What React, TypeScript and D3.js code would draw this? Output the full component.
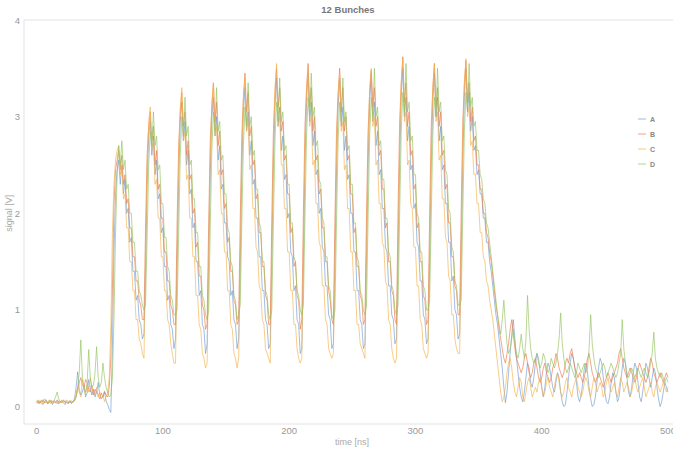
import React from 'react';
import * as d3 from 'd3';

const W = 673;
const H = 452;

const chartTitle = '12 Bunches';
const xLabel = 'time [ns]';
const yLabel = 'signal [V]';
const seriesNames = ['A', 'B', 'C', 'D'];
const seriesColors = ['#6f9bd1', '#ee7644', '#f4b24a', '#93c25c'];
const xTicks = [0, 100, 200, 300, 400, 500];
const yTicks = [0, 1, 2, 3, 4];
const timeStep = 1.25; // ns between samples, first sample at t = 0

const seriesA = [
  0.05, 0.03, 0.06, 0.04, 0.02, 0.05, 0.07, 0.03, 0.04, 0.06, 0.02, 0.05, 0.04, 0.07, 0.03, 0.05, 0.06, 0.04, 0.02, 0.05, 0.04, 0.06, 0.03, 0.05,
  0.08, 0.2, 0.36, 0.18, 0.12, 0.15, 0.22, 0.1, 0.14, 0.28, 0.2, 0.12, 0.18, 0.1, 0.15, 0.25, 0.12, 0.08, 0.1, 0.15, 0.06, 0.02, -0.03, -0.06,
  0.6, 1.6, 2.2, 2.45, 2.55, 2.3, 2.5, 2.2, 2.35, 2.0, 2.05, 1.7, 1.75, 1.4, 1.4, 1.1, 1.15, 0.9, 0.85, 0.7,
  0.75, 1.45, 2.3, 2.8, 2.95, 2.6, 2.8, 2.4, 2.55, 2.15, 2.2, 1.8, 1.85, 1.45, 1.45, 1.1, 1.15, 0.85, 0.8, 0.6,
  0.7, 1.5, 2.35, 2.95, 3.15, 2.75, 2.95, 2.5, 2.65, 2.2, 2.25, 1.85, 1.9, 1.5, 1.5, 1.15, 1.2, 0.85, 0.8, 0.55,
  0.65, 1.55, 2.4, 3.0, 3.2, 2.8, 3.0, 2.55, 2.7, 2.25, 2.3, 1.9, 1.9, 1.55, 1.5, 1.15, 1.2, 0.9, 0.85, 0.6,
  0.7, 1.5, 2.45, 3.05, 3.3, 2.85, 3.05, 2.6, 2.75, 2.3, 2.35, 1.95, 1.95, 1.55, 1.55, 1.2, 1.2, 0.9, 0.85, 0.6,
  0.65, 1.55, 2.5, 3.1, 3.4, 2.9, 3.1, 2.65, 2.8, 2.35, 2.4, 1.95, 2.0, 1.6, 1.55, 1.2, 1.25, 0.9, 0.85, 0.55,
  0.6, 1.5, 2.5, 3.15, 3.45, 2.95, 3.15, 2.7, 2.85, 2.4, 2.45, 2.0, 2.05, 1.65, 1.6, 1.25, 1.25, 0.95, 0.9, 0.6,
  0.65, 1.55, 2.45, 3.1, 3.4, 2.9, 3.1, 2.65, 2.8, 2.35, 2.4, 2.0, 2.0, 1.6, 1.6, 1.2, 1.2, 0.9, 0.85, 0.6,
  0.65, 1.6, 2.5, 3.15, 3.45, 2.95, 3.15, 2.7, 2.85, 2.4, 2.45, 2.05, 2.05, 1.65, 1.6, 1.25, 1.25, 0.95, 0.9, 0.65,
  0.7, 1.6, 2.55, 3.2, 3.5, 3.0, 3.2, 2.75, 2.9, 2.45, 2.5, 2.05, 2.1, 1.7, 1.65, 1.3, 1.3, 0.95, 0.9, 0.65,
  0.7, 1.55, 2.5, 3.15, 3.45, 3.0, 3.2, 2.75, 2.9, 2.45, 2.5, 2.1, 2.1, 1.7, 1.7, 1.3, 1.35, 1.0, 0.95, 0.7,
  0.75, 1.6, 2.55, 3.2, 3.5, 3.05, 3.25, 2.85, 3.0, 2.65, 2.7, 2.4, 2.45, 2.2, 2.2, 1.95, 1.95, 1.7, 1.7, 1.5,
  1.4, 1.25, 1.1, 0.95, 0.85, 0.7, 0.55, 0.4, 0.2, 0.04,
  0.15, 0.35, 0.55, 0.75, 0.9, 0.7, 0.5, 0.35, 0.2, 0.1,
  0.05, 0.15, 0.3, 0.45, 0.4, 0.25, 0.2, 0.3, 0.45, 0.55,
  0.5, 0.35, 0.2, 0.1, 0.2, 0.35, 0.45, 0.4, 0.3, 0.2,
  0.15, 0.25, 0.35, 0.3, 0.15, 0.05, 0.0, 0.02, 0.15, 0.3,
  0.45, 0.55, 0.5, 0.4, 0.25, 0.1, 0.05, 0.12, 0.25, 0.4,
  0.45, 0.35, 0.2, 0.08, 0.0, 0.02, 0.1, 0.25, 0.4, 0.5,
  0.45, 0.3, 0.15, 0.05, 0.03, 0.1, 0.25, 0.35, 0.3, 0.15,
  0.05, 0.1, 0.25, 0.4, 0.5, 0.45, 0.3, 0.15, 0.1, 0.2,
  0.35, 0.45, 0.4, 0.25, 0.1, 0.05, 0.15, 0.3, 0.45, 0.4,
  0.3, 0.2, 0.3, 0.4, 0.35, 0.2, 0.08, 0.0, 0.05, 0.15,
  0.25, 0.2, 0.15,
];

const seriesB = [
  0.04, 0.06, 0.03, 0.05, 0.07, 0.04, 0.05, 0.03, 0.06, 0.05, 0.04, 0.06, 0.05, 0.03, 0.06, 0.04, 0.05, 0.07, 0.04, 0.05, 0.03, 0.06, 0.04, 0.05,
  0.06, 0.1, 0.18, 0.25, 0.3, 0.22, 0.2, 0.28, 0.25, 0.18, 0.15, 0.22, 0.12, 0.18, 0.15, 0.12, 0.08, 0.14, 0.1, 0.16, 0.12, 0.1, 0.2, 0.5,
  1.2, 2.1, 2.45, 2.55, 2.65, 2.45, 2.6, 2.3, 2.4, 2.1, 2.15, 1.85, 1.85, 1.55, 1.55, 1.3, 1.3, 1.1, 1.05, 0.9,
  0.9, 1.85, 2.6, 2.9, 3.05, 2.75, 2.9, 2.5, 2.65, 2.25, 2.3, 1.95, 1.95, 1.6, 1.6, 1.3, 1.3, 1.05, 1.0, 0.85,
  0.85, 1.9, 2.7, 3.05, 3.25, 2.9, 3.05, 2.6, 2.75, 2.35, 2.4, 2.0, 2.05, 1.65, 1.7, 1.35, 1.35, 1.05, 1.0, 0.8,
  0.85, 1.9, 2.75, 3.1, 3.35, 2.95, 3.15, 2.7, 2.85, 2.4, 2.45, 2.05, 2.1, 1.7, 1.75, 1.4, 1.4, 1.1, 1.05, 0.85,
  0.9, 1.95, 2.8, 3.2, 3.45, 3.05, 3.25, 2.8, 2.9, 2.5, 2.55, 2.15, 2.2, 1.8, 1.8, 1.45, 1.45, 1.15, 1.1, 0.85,
  0.85, 1.95, 2.85, 3.25, 3.5, 3.1, 3.3, 2.85, 2.95, 2.55, 2.6, 2.2, 2.2, 1.8, 1.85, 1.45, 1.5, 1.15, 1.1, 0.8,
  0.9, 2.0, 2.9, 3.3, 3.55, 3.1, 3.3, 2.85, 3.0, 2.55, 2.6, 2.2, 2.25, 1.85, 1.85, 1.5, 1.5, 1.2, 1.1, 0.9,
  0.85, 1.95, 2.85, 3.25, 3.5, 3.05, 3.3, 2.85, 3.0, 2.55, 2.6, 2.2, 2.2, 1.8, 1.85, 1.45, 1.45, 1.15, 1.1, 0.85,
  0.9, 2.0, 2.85, 3.25, 3.48, 3.1, 3.3, 2.9, 3.0, 2.6, 2.65, 2.25, 2.25, 1.85, 1.9, 1.5, 1.5, 1.2, 1.15, 0.9,
  0.85, 2.05, 2.95, 3.35, 3.62, 3.15, 3.35, 2.9, 3.05, 2.6, 2.65, 2.25, 2.3, 1.85, 1.9, 1.5, 1.5, 1.15, 1.1, 0.85,
  0.9, 2.0, 2.9, 3.3, 3.55, 3.1, 3.3, 2.9, 3.05, 2.6, 2.65, 2.25, 2.3, 1.9, 1.9, 1.55, 1.55, 1.25, 1.2, 0.95,
  0.95, 2.05, 2.95, 3.35, 3.58, 3.15, 3.35, 2.95, 3.1, 2.75, 2.8, 2.5, 2.5, 2.25, 2.25, 2.0, 2.0, 1.8, 1.75, 1.6,
  1.5, 1.35, 1.2, 1.05, 0.95, 0.8, 0.7, 0.6, 0.5, 0.45,
  0.55, 0.65, 0.8, 0.9, 0.75, 0.6, 0.5, 0.45, 0.4, 0.35,
  0.4, 0.5, 0.55, 0.45, 0.35, 0.3, 0.35, 0.45, 0.5, 0.4,
  0.3, 0.25, 0.3, 0.4, 0.45, 0.35, 0.3, 0.25, 0.3, 0.4,
  0.45, 0.55, 0.5, 0.4, 0.35, 0.3, 0.35, 0.45, 0.5, 0.45,
  0.55, 0.6, 0.5, 0.4, 0.35, 0.3, 0.35, 0.3, 0.25, 0.3,
  0.4, 0.5, 0.55, 0.45, 0.35, 0.3, 0.25, 0.3, 0.35, 0.3,
  0.25, 0.2, 0.25, 0.3, 0.35, 0.3, 0.25, 0.3, 0.35, 0.4,
  0.45, 0.55, 0.6, 0.5, 0.4, 0.35, 0.3, 0.35, 0.4, 0.35,
  0.3, 0.25, 0.3, 0.4, 0.45, 0.4, 0.35, 0.3, 0.25, 0.3,
  0.4, 0.5, 0.45, 0.35, 0.3, 0.25, 0.3, 0.35, 0.3, 0.25,
  0.3, 0.35, 0.3,
];

const seriesC = [
  0.06, 0.04, 0.05, 0.07, 0.03, 0.06, 0.04, 0.05, 0.07, 0.03, 0.06, 0.05, 0.04, 0.06, 0.03, 0.05, 0.07, 0.04, 0.06, 0.05, 0.03, 0.06, 0.05, 0.04,
  0.08, 0.12, 0.2, 0.15, 0.1, 0.28, 0.18, 0.12, 0.22, 0.15, 0.3, 0.2, 0.15, 0.12, 0.2, 0.1, 0.15, 0.08, 0.12, 0.05, 0.1, 0.15, 0.3, 0.8,
  1.8, 2.3, 2.55, 2.65, 2.7, 2.4, 2.5, 2.15, 2.2, 1.85, 1.85, 1.5, 1.5, 1.2, 1.2, 0.9, 0.9, 0.7, 0.65, 0.55,
  0.5, 1.4, 2.45, 2.95, 3.1, 2.65, 2.75, 2.3, 2.35, 1.95, 1.95, 1.55, 1.55, 1.2, 1.2, 0.9, 0.85, 0.65, 0.55, 0.45,
  0.45, 1.45, 2.55, 3.1, 3.3, 2.75, 2.85, 2.35, 2.4, 1.95, 1.95, 1.55, 1.55, 1.15, 1.15, 0.85, 0.8, 0.55, 0.5, 0.4,
  0.45, 1.5, 2.6, 3.15, 3.35, 2.8, 2.9, 2.4, 2.45, 2.0, 2.0, 1.6, 1.6, 1.2, 1.2, 0.85, 0.8, 0.55, 0.5, 0.4,
  0.5, 1.5, 2.6, 3.2, 3.4, 2.85, 2.95, 2.45, 2.5, 2.05, 2.05, 1.65, 1.6, 1.25, 1.2, 0.9, 0.85, 0.6, 0.55, 0.5,
  0.45, 1.55, 2.65, 3.3, 3.55, 2.9, 3.0, 2.5, 2.5, 2.05, 2.05, 1.6, 1.6, 1.2, 1.2, 0.85, 0.85, 0.6, 0.5, 0.45,
  0.5, 1.55, 2.7, 3.25, 3.5, 2.9, 3.0, 2.5, 2.55, 2.1, 2.1, 1.7, 1.65, 1.25, 1.25, 0.9, 0.85, 0.6, 0.55, 0.5,
  0.55, 1.5, 2.65, 3.2, 3.45, 2.85, 2.95, 2.45, 2.5, 2.05, 2.05, 1.6, 1.6, 1.2, 1.2, 0.85, 0.85, 0.65, 0.6, 0.55,
  0.5, 1.6, 2.7, 3.3, 3.5, 2.9, 3.0, 2.5, 2.55, 2.1, 2.1, 1.7, 1.65, 1.3, 1.25, 0.9, 0.85, 0.6, 0.5, 0.45,
  0.5, 1.6, 2.75, 3.35, 3.6, 2.95, 3.05, 2.5, 2.55, 2.1, 2.05, 1.65, 1.65, 1.25, 1.25, 0.9, 0.85, 0.6, 0.55, 0.5,
  0.55, 1.6, 2.7, 3.3, 3.55, 2.95, 3.05, 2.55, 2.6, 2.15, 2.15, 1.75, 1.7, 1.35, 1.3, 0.95, 0.95, 0.7, 0.6, 0.55,
  0.55, 1.65, 2.75, 3.35, 3.6, 3.0, 3.1, 2.7, 2.75, 2.4, 2.4, 2.1, 2.1, 1.8, 1.8, 1.55, 1.5, 1.3, 1.25, 1.1,
  1.0, 0.9, 0.75, 0.6, 0.45, 0.3, 0.15, 0.05, 0.1, 0.2,
  0.35, 0.45, 0.5, 0.4, 0.25, 0.15, 0.1, 0.2, 0.3, 0.25,
  0.1, 0.05, 0.15, 0.25, 0.3, 0.2, 0.1, 0.15, 0.2, 0.15,
  0.25, 0.3, 0.2, 0.1, 0.15, 0.25, 0.3, 0.2, 0.15, 0.1,
  0.2, 0.3, 0.35, 0.25, 0.15, 0.1, 0.15, 0.25, 0.3, 0.2,
  0.15, 0.1, 0.2, 0.25, 0.3, 0.2, 0.15, 0.1, 0.15, 0.25,
  0.3, 0.25, 0.15, 0.1, 0.2, 0.3, 0.25, 0.15, 0.2, 0.25,
  0.2, 0.1, 0.15, 0.25, 0.3, 0.2, 0.15, 0.2, 0.25, 0.15,
  0.1, 0.2, 0.3, 0.25, 0.15, 0.2, 0.25, 0.2, 0.1, 0.15,
  0.25, 0.3, 0.2, 0.15, 0.2, 0.25, 0.3, 0.2, 0.1, 0.15,
  0.2, 0.25, 0.15, 0.1, 0.2, 0.25, 0.2, 0.15, 0.2, 0.25,
  0.2, 0.15, 0.2,
];

const seriesD = [
  0.05, 0.07, 0.04, 0.06, 0.05, 0.08, 0.06, 0.04, 0.05, 0.07, 0.05, 0.06, 0.1, 0.15, 0.08, 0.05, 0.04, 0.06, 0.05, 0.07, 0.05, 0.04, 0.06, 0.05,
  0.06, 0.1, 0.2, 0.35, 0.69, 0.3, 0.2, 0.15, 0.25, 0.59, 0.3, 0.2, 0.22, 0.35, 0.62, 0.3, 0.2, 0.25, 0.45, 0.3, 0.2, 0.15, 0.1, 0.12,
  0.3, 0.9, 1.8, 2.4, 2.7, 2.5, 2.75, 2.45, 2.55, 2.25, 2.3, 2.0, 2.0, 1.7, 1.7, 1.4, 1.4, 1.2, 1.15, 1.05,
  1.0, 1.05, 1.75, 2.5, 2.85, 2.7, 3.05, 2.7, 2.8, 2.45, 2.5, 2.1, 2.1, 1.75, 1.75, 1.45, 1.4, 1.15, 1.1, 0.95,
  0.95, 1.0, 1.8, 2.6, 3.0, 2.8, 3.2, 2.8, 2.9, 2.5, 2.55, 2.15, 2.15, 1.8, 1.8, 1.45, 1.45, 1.15, 1.1, 0.95,
  0.9, 1.0, 1.85, 2.65, 3.05, 2.85, 3.3, 2.85, 2.95, 2.55, 2.6, 2.2, 2.2, 1.85, 1.8, 1.5, 1.45, 1.15, 1.1, 0.9,
  0.95, 1.05, 1.9, 2.7, 3.1, 2.9, 3.35, 2.9, 3.0, 2.6, 2.65, 2.25, 2.25, 1.9, 1.85, 1.5, 1.5, 1.2, 1.15, 0.95,
  0.9, 1.0, 1.9, 2.75, 3.15, 2.95, 3.4, 2.95, 3.05, 2.65, 2.7, 2.3, 2.3, 1.9, 1.9, 1.55, 1.5, 1.2, 1.15, 1.0,
  0.95, 1.05, 1.95, 2.8, 3.2, 3.0, 3.45, 3.0, 3.1, 2.7, 2.75, 2.35, 2.3, 1.95, 1.9, 1.55, 1.55, 1.25, 1.2, 0.95,
  0.9, 1.0, 1.9, 2.75, 3.15, 2.95, 3.4, 2.95, 3.05, 2.65, 2.7, 2.3, 2.3, 1.9, 1.9, 1.55, 1.5, 1.2, 1.15, 1.0,
  0.95, 1.05, 1.95, 2.8, 3.2, 3.0, 3.5, 3.0, 3.1, 2.7, 2.75, 2.35, 2.35, 1.95, 1.95, 1.6, 1.55, 1.25, 1.2, 1.0,
  0.95, 1.05, 2.0, 2.85, 3.25, 3.05, 3.55, 3.05, 3.15, 2.75, 2.8, 2.4, 2.4, 2.0, 1.95, 1.6, 1.6, 1.25, 1.2, 1.0,
  1.0, 1.1, 1.95, 2.8, 3.2, 3.0, 3.5, 3.05, 3.15, 2.75, 2.8, 2.45, 2.4, 2.05, 2.0, 1.65, 1.6, 1.3, 1.25, 1.05,
  1.05, 1.1, 2.0, 2.85, 3.25, 3.05, 3.55, 3.1, 3.2, 2.9, 2.95, 2.65, 2.65, 2.4, 2.35, 2.15, 2.1, 1.9, 1.85, 1.7,
  1.55, 1.4, 1.25, 1.1, 0.95, 0.85, 0.75, 0.9, 1.1, 0.85,
  0.65, 0.55, 0.6, 0.7, 0.8, 0.65, 0.55, 0.5, 0.6, 0.75,
  0.6, 0.5, 0.7, 1.15, 0.8, 0.6, 0.5, 0.45, 0.5, 0.55,
  0.45, 0.4, 0.45, 0.55, 0.5, 0.4, 0.35, 0.4, 0.5, 0.45,
  0.4, 0.45, 0.55, 0.7, 0.97, 0.65, 0.5, 0.4, 0.35, 0.4,
  0.45, 0.4, 0.35, 0.3, 0.35, 0.45, 0.4, 0.35, 0.4, 0.45,
  0.35, 0.4, 0.6, 0.95, 0.65, 0.5, 0.4, 0.35, 0.3, 0.35,
  0.4, 0.45, 0.4, 0.3, 0.35, 0.4, 0.45, 0.4, 0.35, 0.3,
  0.35, 0.45, 0.55, 0.9, 0.6, 0.45, 0.35, 0.3, 0.35, 0.4,
  0.35, 0.3, 0.35, 0.4, 0.35, 0.3, 0.35, 0.4, 0.35, 0.3,
  0.35, 0.45, 0.55, 0.77, 0.5, 0.4, 0.35, 0.3, 0.35, 0.3,
  0.25, 0.3, 0.25,
];

const allSeries = [seriesA, seriesB, seriesC, seriesD];

const x = d3.scaleLinear().domain([-10, 500]).range([24, 668]);
const y = d3.scaleLinear().domain([-0.18, 4]).range([424, 20]);

const line = d3
  .line<number>()
  .x((_, i) => x(i * timeStep))
  .y((d) => y(d));

export default function App() {
  const font = 'Arial, "Liberation Sans", Helvetica, sans-serif';
  return (
    <svg
      width={W}
      height={H}
      viewBox={`0 0 ${W} ${H}`}
      style={{ position: 'absolute', left: 0, top: 0, background: '#fff' }}
      fontFamily={font}
    >
      <text x={348} y={13} textAnchor="middle" fontSize={9.5} fontWeight="bold" fill="#777">
        {chartTitle}
      </text>
      <line x1={24} x2={W} y1={y(4)} y2={y(4)} stroke="#e3e3e3" strokeWidth={1} />
      <line x1={24} x2={24} y1={y(4)} y2={424} stroke="#e3e3e3" strokeWidth={1} />
      <line x1={24} x2={W} y1={424} y2={424} stroke="#e3e3e3" strokeWidth={1} />
      {yTicks.map((t) => (
        <text key={'y' + t} x={20} y={y(t) + 3.5} textAnchor="end" fontSize={9.5} fill="#999">
          {t}
        </text>
      ))}
      {xTicks.map((t) => (
        <text key={'x' + t} x={x(t)} y={434} textAnchor="middle" fontSize={9.5} fill="#999">
          {t}
        </text>
      ))}
      <text x={352} y={445} textAnchor="middle" fontSize={9} fill="#aaa">
        {xLabel}
      </text>
      <text
        transform={`translate(12, ${y(2)}) rotate(-90)`}
        textAnchor="middle"
        fontSize={9}
        fill="#aaa"
      >
        {yLabel}
      </text>
      <g>
        {allSeries.map((s, k) => (
          <path
            key={seriesNames[k]}
            d={line(s) || ''}
            fill="none"
            stroke={seriesColors[k]}
            strokeWidth={0.9}
            strokeOpacity={0.72}
            strokeLinejoin="round"
          />
        ))}
      </g>
      <g>
        {seriesNames.map((n, k) => (
          <g key={n} transform={`translate(638, ${119 + k * 15})`}>
            <line x1={0} x2={8} y1={0} y2={0} stroke={seriesColors[k]} strokeWidth={1} strokeOpacity={0.7} />
            <text x={12} y={3} fontSize={7} fontWeight="bold" fill="#888">
              {n}
            </text>
          </g>
        ))}
      </g>
    </svg>
  );
}
